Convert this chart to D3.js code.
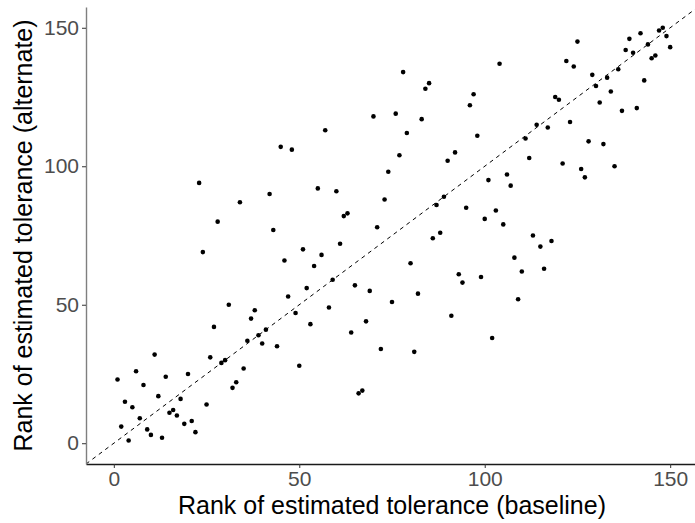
<!DOCTYPE html>
<html>
<head>
<meta charset="utf-8">
<script src="https://cdn.jsdelivr.net/npm/d3@7"></script>
<style>
  body { margin: 0; background: #fff; }
  svg { display: block; font-family: "Liberation Sans", Arial, sans-serif; }
</style>
</head>
<body>
<div id="chart"></div>
<script>
// rank pairs (baseline rank, alternate rank)
var baseline = [
  1, 2, 3, 4, 5, 6, 7, 8, 9, 10, 11, 12, 13, 14, 15, 16, 17, 18, 19, 20,
  21, 22, 23, 24, 25, 26, 27, 28, 29, 30, 31, 32, 33, 34, 35, 36, 37, 38, 39, 40,
  41, 42, 43, 44, 45, 46, 47, 48, 49, 50, 51, 52, 53, 54, 55, 56, 57, 58, 59, 60,
  61, 62, 63, 64, 65, 66, 67, 68, 69, 70, 71, 72, 73, 74, 75, 76, 77, 78, 79, 80,
  81, 82, 83, 84, 85, 86, 87, 88, 89, 90, 91, 92, 93, 94, 95, 96, 97, 98, 99, 100,
  101, 102, 103, 104, 105, 106, 107, 108, 109, 110, 111, 112, 113, 114, 115, 116, 117, 118, 119, 120,
  121, 122, 123, 124, 125, 126, 127, 128, 129, 130, 131, 132, 133, 134, 135, 136, 137, 138, 139, 140,
  141, 142, 143, 144, 145, 146, 147, 148, 149, 150
];
var alternate = [
  23, 6, 15, 1, 13, 26, 9, 21, 5, 3, 32, 17, 2, 24, 11, 12, 10, 16, 7, 25,
  8, 4, 94, 69, 14, 31, 42, 80, 29, 30, 50, 20, 22, 87, 27, 37, 45, 48, 39, 36,
  41, 90, 77, 35, 107, 66, 53, 106, 47, 28, 70, 56, 43, 64, 92, 68, 113, 49, 59, 91,
  72, 82, 83, 40, 57, 18, 19, 44, 55, 118, 78, 34, 88, 98, 51, 119, 104, 134, 112, 65,
  33, 54, 117, 128, 130, 74, 86, 76, 89, 102, 46, 105, 61, 58, 85, 122, 126, 111, 60, 81,
  95, 38, 84, 137, 79, 97, 93, 67, 52, 62, 110, 103, 75, 115, 71, 63, 114, 73, 125, 124,
  101, 138, 116, 136, 145, 99, 96, 109, 133, 129, 123, 108, 132, 127, 100, 135, 120, 142, 146, 141,
  121, 148, 131, 144, 139, 140, 149, 150, 147, 143
];
var xTicks = [0, 50, 100, 150];
var yTicks = [0, 50, 100, 150];
var xTitle = "Rank of estimated tolerance (baseline)";
var yTitle = "Rank of estimated tolerance (alternate)";

var width = 695;
var height = 523;
var padLeft = 86;
var padRight = 698;
var padTop = 7;
var padBottom = 464;

var svg = d3.select("#chart")
  .append("svg")
  .attr("width", width)
  .attr("height", height);

var x = d3.scaleLinear().domain([-7.5, 157.5]).range([padLeft, padRight]);
var y = d3.scaleLinear().domain([-7.5, 157.5]).range([padBottom, padTop]);

// dashed identity line
svg.append("line")
  .attr("x1", x(-7.5))
  .attr("y1", y(-7.5))
  .attr("x2", x(157.5))
  .attr("y2", y(157.5))
  .style("stroke", "black")
  .style("stroke-width", "1px")
  .style("stroke-dasharray", "4,4");

var points = baseline.map(function (d, i) { return { b: d, a: alternate[i] }; });

svg.append("g")
  .selectAll("circle")
  .data(points)
  .enter()
  .append("circle")
  .attr("cx", function (d) { return x(d.b); })
  .attr("cy", function (d) { return y(d.a); })
  .attr("r", 2.3)
  .attr("fill", "black");

// axes
var xAxis = svg.append("g")
  .attr("transform", "translate(0," + padBottom + ")")
  .call(d3.axisBottom(x).tickValues(xTicks).tickSize(4).tickPadding(3).tickSizeOuter(0));
var yAxis = svg.append("g")
  .attr("transform", "translate(" + padLeft + ",0)")
  .call(d3.axisLeft(y).tickValues(yTicks).tickSize(4).tickPadding(3).tickSizeOuter(0));

xAxis.select(".domain").style("stroke", "#1a1a1a").style("stroke-width", "1.4px");
yAxis.select(".domain").style("stroke", "#7f7f7f").style("stroke-width", "1.4px");
svg.selectAll(".tick line").style("stroke", "#333").style("stroke-width", "1px");
svg.selectAll(".tick text")
  .style("font-family", "'Liberation Sans', Arial, sans-serif")
  .style("font-size", "21px")
  .style("fill", "#4d4d4d");

svg.append("text")
  .attr("x", (padLeft + padRight) / 2)
  .attr("y", 514)
  .attr("text-anchor", "middle")
  .style("font-size", "25px")
  .style("fill", "black")
  .text(xTitle);

svg.append("text")
  .attr("transform", "translate(32," + (padTop + padBottom) / 2 + ") rotate(-90)")
  .attr("text-anchor", "middle")
  .style("font-size", "25px")
  .style("fill", "black")
  .text(yTitle);
</script>
</body>
</html>
